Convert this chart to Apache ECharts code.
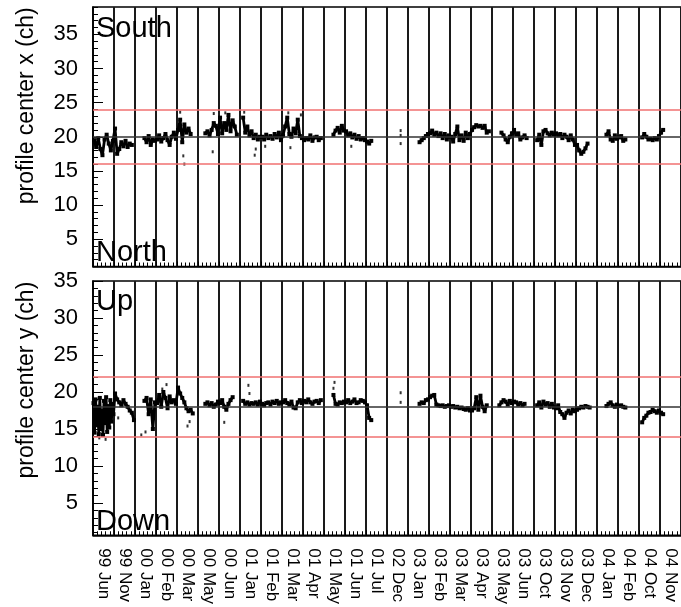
<!DOCTYPE html>
<html><head><meta charset="utf-8">
<script src="https://cdn.jsdelivr.net/npm/echarts@6/dist/echarts.min.js"></script>
<style>html,body{margin:0;padding:0;background:#fff}#c{width:681px;height:607px}</style>
</head><body><div id="c"></div>
<script>
const months = ['99 Jun','99 Nov','00 Jan','00 Feb','00 Mar','00 May','00 Jun','01 Jan','01 Feb','01 Mar','01 Apr','01 May','01 Jun','01 Jul','02 Dec','03 Jan','03 Feb','03 Mar','03 Apr','03 May','03 Jun','03 Oct','03 Nov','03 Dec','04 Jan','04 Feb','04 Oct','04 Nov'];
const N = null;
// profile center x, samples spread evenly over each period
const centerX = [
 [19.5,18.5,19.8,18.2,17.3,19.6,20.3,19.0,18.0,19.4],
 [21.2,17.5,18.2,19.2,18.6,19.4,18.5,19.0,18.8,N],
 [N,N,N,N,19.8,19.2,20.1,18.8,19.6,19.4],
 [19.6,20.2,19.3,19.8,20.4,19.5,18.8,20.0,20.6,19.7],
 [21.0,22.5,19.2,21.8,20.6,21.2,20.4,N,N,N],
 [N,N,N,20.5,20.8,20.2,21.0,22.0,21.6,20.4],
 [22.8,20.5,22.0,21.0,23.2,20.8,22.4,21.5,20.3,N],
 [N,22.8,20.6,21.5,20.2,20.8,19.8,20.3,19.6,20.0],
 [20.0,19.6,20.3,19.8,20.1,19.7,20.4,19.9,20.6,19.5],
 [20.2,21.5,22.8,20.4,20.0,21.2,20.5,22.5,20.1,19.8],
 [19.5,19.8,19.6,20.2,19.4,19.9,20.0,19.5,19.8,N],
 [N,N,N,N,20.3,20.9,21.3,20.6,21.6,20.9],
 [20.8,20.2,20.5,19.9,20.3,19.7,20.1,19.6,19.8,19.5],
 [19.3,19.0,19.4,N,N,N,N,N,N,N],
 [N,N,N,N,N,N,N,N,N,N],
 [N,N,N,N,N,19.2,19.5,19.8,20.1,20.4],
 [20.5,20.9,20.3,20.6,20.1,20.5,19.8,20.4,19.6,20.2],
 [20.0,19.3,20.4,21.5,19.5,20.2,19.4,20.6,19.8,20.4],
 [21.0,21.4,21.7,21.5,21.6,21.3,21.6,20.6,20.8,N],
 [N,N,N,N,20.6,20.2,19.6,19.2,20.0,20.5],
 [21.0,20.3,20.5,19.6,19.9,20.2,19.8,N,N,N],
 [N,19.5,20.3,18.8,20.8,21.0,20.5,20.2,20.6,20.3],
 [20.5,20.2,20.4,19.8,20.3,20.0,19.5,20.2,19.6,18.8],
 [18.8,18.0,17.5,17.8,18.3,19.0,N,N,N,N],
 [N,N,N,N,20.3,20.8,19.6,19.4,20.2,19.7],
 [19.9,20.1,19.4,19.6,N,N,N,N,N,N],
 [N,19.9,20.4,20.0,19.6,19.7,19.5,19.8,19.6,20.1],
 [20.6,21.0,N,N,N,N,N,N,N,N]
];
const outliersX = [[4.15,23.6],[4.35,16.0],[4.3,17.2],[5.75,23.4],[5.7,17.8],[6.3,23.5],[7.2,23.6],[7.7,17.3],[7.75,18.2],[8.2,18.6],[9.3,23.5],[9.9,23.2],[9.4,18.4],[12.3,18.6],[14.65,20.9],[14.65,20.2],[14.65,19.0]];
// profile center y
const centerY = [
 [18.5,14.5,19.0,15.5,18.0,14.3,19.2,15.0,17.5,14.2,18.8,15.8,19.3,14.6,18.1,15.2,18.9,16.0,18.4,17.0],
 [19.8,19.0,18.6,18.2,18.9,18.4,18.0,17.5,17.2,16.2],
 [N,N,N,N,18.8,19.2,17.0,19.0,15.0,18.6],
 [18.5,19.6,18.0,20.0,19.2,17.8,19.4,18.6,18.9,18.4],
 [20.6,19.8,19.2,18.6,17.8,17.4,17.6,17.1,N,N],
 [N,N,N,18.4,18.6,18.2,18.5,18.0,18.3,18.7],
 [18.5,18.9,18.0,17.6,18.4,18.9,19.3,N,N,N],
 [N,18.8,18.4,18.6,18.3,18.5,18.4,18.6,18.3,18.7],
 [18.4,18.2,18.5,18.6,18.3,18.7,18.5,18.8,18.4,18.6],
 [18.6,18.9,18.5,18.3,18.7,17.9,17.8,18.6,18.9,18.5],
 [18.8,18.6,19.0,18.6,18.4,18.7,18.8,18.5,18.9,N],
 [N,N,N,N,19.6,18.4,18.3,18.6,18.5,18.7],
 [18.6,18.9,18.5,18.7,19.0,18.5,18.6,18.9,18.8,18.6],
 [18.2,16.5,16.2,N,N,N,N,N,N,N],
 [N,N,N,N,N,N,N,N,N,N],
 [N,N,N,N,N,18.4,18.6,18.5,18.9,19.0],
 [19.3,19.5,19.6,18.3,18.2,18.1,18.2,18.0,18.1,18.2],
 [18.0,18.1,17.9,18.0,17.8,17.9,17.7,17.6,17.8,17.5],
 [17.5,17.8,19.3,17.6,19.5,18.0,17.4,18.2,N,N],
 [N,N,N,18.2,18.6,18.9,18.7,18.3,18.8,18.5],
 [18.7,18.6,18.3,18.5,18.2,18.4,N,N,N,N],
 [N,18.2,18.6,17.9,18.7,18.3,18.5,18.0,18.4,17.9],
 [17.8,18.2,17.3,17.0,16.5,17.2,17.5,17.1,17.6,17.4],
 [17.6,17.8,18.0,17.9,18.1,18.0,17.9,N,N,N],
 [N,N,N,N,18.1,18.4,18.6,18.2,18.0,18.3],
 [18.1,18.2,18.0,17.9,N,N,N,N,N,N],
 [N,15.9,16.5,16.8,17.2,17.3,17.6,17.4,17.2,17.5],
 [17.2,17.0,N,N,N,N,N,N,N,N]
];
const outliersY = [[0.3,13.8],[0.6,13.6],[1.2,16.5],[2.3,14.2],[2.5,14.6],[3.1,21.9],[3.5,21.0],[3.3,20.4],[4.5,15.4],[4.6,16.0],[6.25,15.9],[7.4,20.9],[7.45,19.8],[11.5,21.3],[11.45,20.5],[14.65,19.9],[14.65,18.6]];
const meanX = 20, limitsX = [16, 24];
const meanY = 18, limitsY = [14, 22];
const rangeX = [1, 39], rangeY = [0.64, 35];
const majorTicks = [5,10,15,20,25,30,35];

const FONT = 'Liberation Sans';
function toPoints(bins){const out=[];bins.forEach((arr,b)=>arr.forEach((v,j)=>out.push([b+(j+0.5)/arr.length, v])));return out;}
function minorTicks(r){const o=[];for(let v=Math.ceil(r[0]);v<=Math.floor(r[1]);v++){if(v%5!==0)o.push(v);}return o;}
function xValueAxis(g){return {type:'value',gridIndex:g,min:0,max:28,interval:1,position:'bottom',
  axisLine:{show:true,lineStyle:{color:'#000',width:1.5}},
  axisTick:{show:true,inside:true,length:5,lineStyle:{color:'#000',width:1}},
  minorTick:{show:true,splitNumber:5,length:4,lineStyle:{color:'#000',width:1}},
  axisLabel:{show:false},splitLine:{show:true,lineStyle:{color:'#1a1a1a',width:2}}};}
function yAxesFor(g,r,name,shift){return [
  {type:'value',gridIndex:g,min:r[0],max:r[1],position:'left',
   axisLine:{show:true,lineStyle:{color:'#000',width:1.5}},
   axisTick:{show:true,inside:true,length:10,customValues:majorTicks,lineStyle:{color:'#000',width:1}},
   axisLabel:{show:true,customValues:majorTicks,margin:15,fontSize:22,color:'#000',fontFamily:FONT},
   splitLine:{show:false},
   name:name,nameLocation:'middle',nameRotate:90,nameGap:55,
   nameTextStyle:{fontSize:23,color:'#000',fontFamily:FONT,padding:[0,0,0,shift]}},
  {type:'value',gridIndex:g,min:r[0],max:r[1],position:'left',
   axisLine:{show:false},axisTick:{show:true,inside:true,length:5,customValues:minorTicks(r),lineStyle:{color:'#000',width:1}},
   axisLabel:{show:false},splitLine:{show:false}}
];}
function refLines(mean,lim){return {silent:true,symbol:'none',label:{show:false},animation:false,
  data:[{yAxis:lim[0],lineStyle:{color:'#f07070',width:1.5,type:'solid'}},
        {yAxis:lim[1],lineStyle:{color:'#f07070',width:1.5,type:'solid'}},
        {yAxis:mean,lineStyle:{color:'#333',width:1.5,type:'solid'}}]};}
const lineStyleCommon = {type:'line',showSymbol:true,symbol:'rect',symbolSize:4,connectNulls:false,
  itemStyle:{color:'#000'},lineStyle:{color:'#000',width:2.8},z:3};
const tStyle = {fontSize:29,fontWeight:'normal',fontFamily:FONT,color:'#000'};

const chart = echarts.init(document.getElementById('c'));
chart.setOption({
  animation:false,
  backgroundColor:'#fff',
  title:[
    {text:'South',left:96,top:14,padding:0,textStyle:tStyle},
    {text:'North',left:96,top:238,padding:0,textStyle:tStyle},
    {text:'Up',left:96,top:287,padding:0,textStyle:tStyle},
    {text:'Down',left:96,top:507,padding:0,textStyle:tStyle}
  ],
  grid:[
    {left:93,top:7,width:591,height:259.5,show:true,borderColor:'#000',borderWidth:1.5,backgroundColor:'transparent'},
    {left:93,top:281,width:591,height:256,show:true,borderColor:'#000',borderWidth:1.5,backgroundColor:'transparent'}
  ],
  xAxis:[
    xValueAxis(0), xValueAxis(1),
    {type:'category',gridIndex:1,data:months,position:'bottom',boundaryGap:true,
     axisLine:{show:false},axisTick:{show:false},splitLine:{show:false},
     axisLabel:{interval:0,rotate:-90,margin:13,fontSize:17,color:'#000',fontFamily:FONT}}
  ],
  yAxis:[].concat(yAxesFor(0,rangeX,'profile center x (ch)',62), yAxesFor(1,rangeY,'profile center y (ch)',56)),
  series:[
    Object.assign({},lineStyleCommon,{name:'x',xAxisIndex:0,yAxisIndex:0,data:toPoints(centerX),markLine:refLines(meanX,limitsX)}),
    {type:'scatter',xAxisIndex:0,yAxisIndex:0,data:outliersX,symbol:'rect',symbolSize:[2,3],itemStyle:{color:'#000'},z:3},
    Object.assign({},lineStyleCommon,{name:'y',xAxisIndex:1,yAxisIndex:2,data:toPoints(centerY),markLine:refLines(meanY,limitsY)}),
    {type:'scatter',xAxisIndex:1,yAxisIndex:2,data:outliersY,symbol:'rect',symbolSize:[2,3],itemStyle:{color:'#000'},z:3}
  ]
});
</script></body></html>
